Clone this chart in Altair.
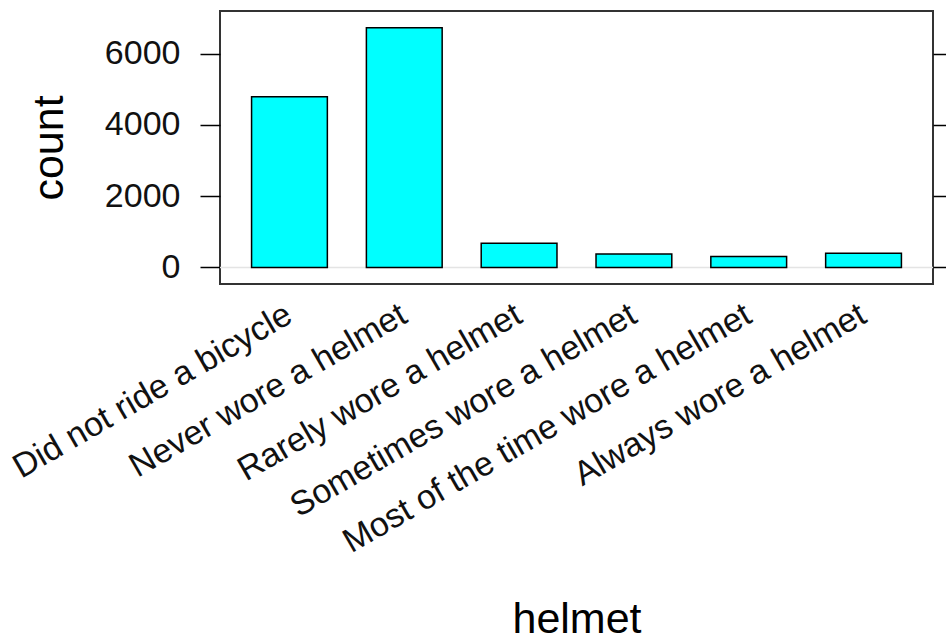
import altair as alt
import pandas as pd

# Helmet use categories and their counts
helmet = [
    "Did not ride a bicycle",
    "Never wore a helmet",
    "Rarely wore a helmet",
    "Sometimes wore a helmet",
    "Most of the time wore a helmet",
    "Always wore a helmet",
]
count = [4790, 6725, 680, 380, 305, 400]

y_ticks = [0, 2000, 4000, 6000]
ref_value = [0]

df = pd.DataFrame({"helmet": helmet, "count": count})
ref = pd.DataFrame({"ref": ref_value})

FONT = "Liberation Sans"
W, H = 713, 273
LABEL_SIZE = 34
TITLE_SIZE = 43

y_scale = alt.Scale(domain=[-463, 7193], nice=False, zero=False)
x_scale = alt.Scale(domain=helmet, paddingInner=0.34, paddingOuter=0.275)

# light reference line at zero, carrying the right-hand tick axis
ref_line = alt.Chart(ref).mark_rule(color="#e4e4e4", strokeWidth=1.5).encode(
    y=alt.Y(
        "ref:Q",
        scale=y_scale,
        axis=alt.Axis(
            orient="right",
            values=y_ticks,
            labels=False,
            title=None,
            grid=False,
            domain=False,
            tickSize=20,
            tickColor="black",
            tickWidth=1.5,
        ),
    )
)

bars = alt.Chart(df).mark_bar(
    color="#00FFFF", stroke="black", strokeWidth=1.5, opacity=1
).encode(
    x=alt.X(
        "helmet:N",
        sort=helmet,
        scale=x_scale,
        axis=alt.Axis(
            title="helmet",
            titleFontSize=TITLE_SIZE,
            titleFont=FONT,
            titleFontWeight="normal",
            titleColor="black",
            titleX=W / 2,
            titleY=348,
            titleAlign="center",
            titleBaseline="alphabetic",
            labelFont=FONT,
            labelFontSize=LABEL_SIZE,
            labelColor="#111",
            labelAngle=330,
            labelAlign="right",
            labelBaseline="middle",
            labelPadding=28,
            labelLimit=1000,
            labelOverlap=False,
            labelBound=False,
            ticks=False,
            domain=False,
        ),
    ),
    y=alt.Y(
        "count:Q",
        scale=y_scale,
        axis=alt.Axis(
            orient="left",
            values=y_ticks,
            format="d",
            title="count",
            titleFontSize=TITLE_SIZE,
            titleFont=FONT,
            titleFontWeight="normal",
            titleColor="black",
            titleAngle=270,
            titleX=-171,
            titleY=H / 2,
            titleAlign="center",
            titleBaseline="middle",
            labelFont=FONT,
            labelFontSize=LABEL_SIZE,
            labelColor="#111",
            labelPadding=20,
            tickSize=20,
            tickColor="black",
            tickWidth=1.5,
            grid=False,
            domain=False,
        ),
    ),
)

chart = (
    alt.layer(ref_line, bars)
    .resolve_scale(y="shared")
    .resolve_axis(y="independent")
    .properties(
        width=W,
        height=H,
        autosize=alt.AutoSizeParams(type="none"),
        padding={"left": 220, "top": 11, "right": 13, "bottom": 351},
        background="white",
    )
    .configure_view(stroke="#333", strokeWidth=2)
)

chart.save("out.html", embed_options={"renderer": "svg", "actions": False})
